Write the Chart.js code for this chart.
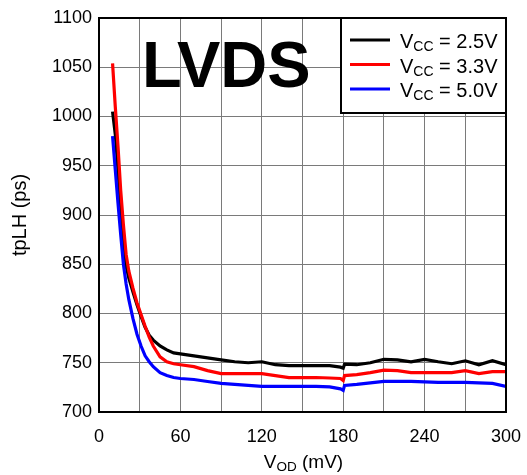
<!DOCTYPE html>
<html>
<head>
<meta charset="utf-8">
<script src="https://cdn.jsdelivr.net/npm/chart.js@4/dist/chart.umd.min.js"></script>
<style>
  html, body { margin: 0; padding: 0; background: #fff; }
  #wrap { width: 527px; height: 475px; }
</style>
</head>
<body>
<div id="wrap"><canvas id="c" width="527" height="475"></canvas></div>
<script>
// ---- Data ----
const vod = [10, 12, 14, 16, 18, 20, 22, 25, 28, 31, 34, 37, 40, 45, 50, 55, 60, 70, 80, 90,
             100, 110, 120, 130, 140, 150, 160, 170, 178, 180, 181, 190, 200, 210, 220, 230,
             240, 250, 260, 270, 280, 290, 300];
const tplh_25 = [1005, 982, 946, 905, 873, 848, 836, 822, 809, 797, 786, 778, 773, 767, 763, 760, 759, 757, 755, 753,
                 751, 750, 751, 748, 747, 747, 747, 747, 745.5, 744.5, 748.5, 748, 750, 753.5, 753, 751,
                 753.5, 751, 749, 752, 748, 752, 748];
const tplh_33 = [1054, 1010, 970, 925, 890, 860, 843, 826, 811, 799, 787, 776, 767, 756, 751, 749, 748, 746, 742, 739,
                 739, 739, 739, 737, 735, 735, 735, 734.5, 734, 732, 737, 738, 740, 742.5, 742, 740,
                 740, 740, 740, 742, 739, 741, 741];
const tplh_50 = [980, 946, 912, 880, 850, 830, 814, 795, 779, 767, 757, 751, 746, 740, 737, 735, 734, 733, 731, 729,
                 728, 727, 726, 726, 726, 726, 726, 725.5, 723.5, 722, 727, 728, 729.5, 731, 731, 731,
                 730.5, 730, 730, 730, 729.5, 729, 726];
const seriesVcc = ['2.5V', '3.3V', '5.0V'];
const seriesColors = ['#000000', '#ff0000', '#0000ff'];
const xTickLabels = [0, 60, 120, 180, 240, 300];
const yTickLabels = [700, 750, 800, 850, 900, 950, 1000, 1050, 1100];
const overlayTitle = 'LVDS';

const FONT = "'Liberation Sans', Arial, sans-serif";

function pts(ys) { return vod.map((x, i) => ({ x: x, y: ys[i] })); }

const drawOrder = [2, 0, 1]; // red drawn on top, then blue, then black underneath
const datasets = [tplh_25, tplh_33, tplh_50].map((ys, i) => ({
  label: 'VCC = ' + seriesVcc[i],
  data: pts(ys),
  borderColor: seriesColors[i],
  backgroundColor: seriesColors[i],
  borderWidth: 3.2,
  pointRadius: 0,
  tension: 0,
  fill: false,
  order: drawOrder[i]
}));

const decor = {
  id: 'decor',
  afterDraw(chart) {
    const ctx = chart.ctx;
    const a = chart.chartArea;
    ctx.save();
    // plot frame
    ctx.strokeStyle = '#000';
    ctx.lineWidth = 2;
    ctx.strokeRect(a.left, a.top, a.right - a.left, a.bottom - a.top);

    // big LVDS label
    ctx.fillStyle = '#000';
    ctx.font = "bold 65px " + FONT;
    ctx.textBaseline = 'alphabetic';
    ctx.textAlign = 'left';
    ctx.fillText(overlayTitle, 142, 87);

    // legend box
    const bx = 341, by = a.top, bw = a.right - 341, bh = 95;
    ctx.fillStyle = '#fff';
    ctx.fillRect(bx, by, bw, bh);
    ctx.strokeStyle = '#000';
    ctx.lineWidth = 2;
    ctx.strokeRect(bx, by, bw, bh);
    chart.data.datasets.forEach((ds, i) => {
      const y = 40 + i * 24.5;
      ctx.strokeStyle = ds.borderColor;
      ctx.lineWidth = 3;
      ctx.beginPath();
      ctx.moveTo(350, y);
      ctx.lineTo(390, y);
      ctx.stroke();
      let x = 400;
      const base = y + 8;
      ctx.fillStyle = '#000';
      ctx.font = "20px " + FONT;
      ctx.fillText('V', x, base);
      x += ctx.measureText('V').width;
      ctx.font = "14px " + FONT;
      ctx.fillText('CC', x, base + 3);
      x += ctx.measureText('CC').width;
      ctx.font = "20px " + FONT;
      ctx.fillText(' = ' + seriesVcc[i], x, base);
    });

    // x-axis title with subscript
    ctx.fillStyle = '#000';
    const parts = [['V', 19, 0], ['OD', 13.5, 3], [' (mV)', 19, 0]];
    let tw = 0;
    parts.forEach(p => { ctx.font = p[1] + "px " + FONT; tw += ctx.measureText(p[0]).width; });
    let tx = (a.left + a.right) / 2 + 1 - tw / 2;
    parts.forEach(p => {
      ctx.font = p[1] + "px " + FONT;
      ctx.fillText(p[0], tx, 468 + p[2]);
      tx += ctx.measureText(p[0]).width;
    });
    ctx.restore();
  }
};

new Chart(document.getElementById('c'), {
  type: 'line',
  data: { datasets: datasets },
  options: {
    responsive: false,
    animation: false,
    devicePixelRatio: 1,
    layout: { padding: { left: 0, right: 21, top: 18, bottom: 0 } },
    plugins: { legend: { display: false }, tooltip: { enabled: false }, title: { display: false } },
    scales: {
      x: {
        type: 'linear',
        min: 0, max: 300,
        afterFit(s) { s.height = 63; s.paddingLeft = 0; s.paddingRight = 0; },
        afterBuildTicks(s) { const t = []; for (let v = 0; v <= 300; v += 30) t.push({ value: v }); s.ticks = t; },
        ticks: {
          color: '#000',
          font: { family: FONT, size: 18 },
          padding: 14,
          maxRotation: 0,
          autoSkip: false,
          callback: v => (xTickLabels.includes(v) ? String(v) : '')
        },
        grid: { color: '#7a7a7a', lineWidth: 1, drawTicks: false },
        border: { display: true, color: '#000', width: 2 }
      },
      y: {
        type: 'linear',
        min: 700, max: 1100,
        afterFit(s) { s.width = 99; s.paddingTop = 0; s.paddingBottom = 0; },
        afterBuildTicks(s) { s.ticks = yTickLabels.map(v => ({ value: v })); },
        ticks: {
          color: '#000',
          font: { family: FONT, size: 18 },
          padding: 7,
          autoSkip: false,
          callback: v => String(v)
        },
        title: {
          display: true,
          text: 'tpLH (ps)',
          color: '#000',
          font: { family: FONT, size: 20 },
          padding: { top: 8, bottom: 0 }
        },
        grid: { color: '#7a7a7a', lineWidth: 1, drawTicks: false },
        border: { display: true, color: '#000', width: 2 }
      }
    }
  },
  plugins: [decor]
});
</script>
</body>
</html>
